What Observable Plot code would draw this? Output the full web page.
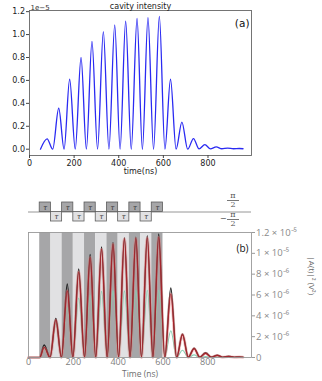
<!DOCTYPE html>
<html>
<head>
<meta charset="utf-8">
<script src="https://cdn.jsdelivr.net/npm/d3@7"></script>
<script src="https://cdn.jsdelivr.net/npm/@observablehq/plot@0.6"></script>
<style>
  html, body { margin: 0; padding: 0; background: #fff; }
  #root { position: relative; width: 322px; height: 381px; overflow: hidden; background: #fff; }
  #root > .panel { position: absolute; left: 0; }
  .frac { position: absolute; width: 12px; text-align: center; font-family: "DejaVu Serif", serif; font-size: 8px; line-height: 8.5px; color: #555; z-index: 5; }
  .frac .den { display: block; border-top: 0.8px solid #777; }
  .minus { position: absolute; font-family: "DejaVu Sans", sans-serif; font-size: 8px; line-height: 8px; color: #555; z-index: 5; }
</style>
</head>
<body>
<div id="root"></div>
<script>
// ---------- Panel (a): simulated cavity intensity (units of 1e-5) ----------
const aTime = [49, 79, 104, 131, 155, 180, 205, 231, 255, 280, 305, 331, 356, 382, 406, 431, 456, 482, 506, 531, 556, 582, 607, 632, 657, 683, 709, 735, 760, 786, 811, 837, 862, 888, 914, 940, 957];
const aValue = [0, 0.09, 0, 0.357, 0, 0.61, 0, 0.80, 0, 0.94, 0, 1.026, 0, 1.084, 0, 1.116, 0, 1.14, 0, 1.148, 0, 1.159, 0, 0.61, 0, 0.237, 0, 0.093, 0.003, 0.04, 0.003, 0.02, 0.004, 0.01, 0.004, 0.006, 0.004];
const aXTicks = [0, 200, 400, 600, 800];
const aYTicks = [0, 0.2, 0.4, 0.6, 0.8, 1.0, 1.2];
const aTitle = "cavity intensity";
const aXLabel = "time(ns)";
const aOffset = "1e\u22125";
const aTag = "(a)";

// ---------- Panel (b): measured |A(t)|^2 (units of 1e-6 V^2) ----------
const bTime = [0, 50, 70, 96, 122, 147, 173, 198, 224, 250, 275, 300, 326, 351, 377, 402, 428, 453, 479, 504, 530, 555, 581, 608, 635, 661, 687, 713, 739, 764, 790, 816, 842, 867, 893, 918, 940, 957];
const bData = [0, 0, 1.19, 0, 3.75, 0, 7.05, 0, 8.5, 0, 9.9, 0, 10.6, 0, 11.05, 0, 11.5, 0, 11.55, 0, 11.7, 0, 11.85, 0, 6.67, 0, 2.25, 0.03, 0.9, 0.04, 0.45, 0.04, 0.22, 0.03, 0.12, 0.03, 0.06, 0.03];
const bFit = [0, 0, 0.96, 0, 3.6, 0, 6.4, 0, 8.2, 0, 9.6, 0, 10.4, 0, 10.9, 0, 11.4, 0, 11.45, 0, 11.5, 0, 11.55, 0, 6.1, 0, 2.2, 0.02, 0.85, 0.02, 0.4, 0.02, 0.2, 0.02, 0.1, 0.02, 0.05, 0.03];
const bGreen = [0, 0, 0.85, 0, 3.25, 0, 4.8, 0, 5.7, 0, 6.0, 0, 6.35, 0, 6.4, 0, 6.4, 0, 6.45, 0, 6.45, 0, 6.45, 0, 2.57, 0, 0.7, 0, 0.25, 0, 0.1, 0, 0.04, 0, 0.02, 0, 0.01, 0];
const bUnit = 1e-6;
const bXTicks = [0, 200, 400, 600, 800];
const bYTicks = [0, 2e-6, 4e-6, 6e-6, 8e-6, 1e-5, 1.2e-5];
const bYTickLabels = ["0", "2 \u00d7 10\u207b\u2076", "4 \u00d7 10\u207b\u2076", "6 \u00d7 10\u207b\u2076", "8 \u00d7 10\u207b\u2076", "1 \u00d7 10\u207b\u2075", "1.2 \u00d7 10\u207b\u2075"];
const bXLabel = "Time (ns)";
const bYLabel = "|A(t)|\u00b2 (V\u00b2)";
const bTag = "(b)";

// ---------- Pulse sequence (phase +pi/2 / -pi/2, each tau = 50 ns) ----------
const pulseStart = [50, 100, 150, 200, 250, 300, 350, 400, 450, 500, 550];
const pulsePhase = [1, -1, 1, -1, 1, -1, 1, -1, 1, -1, 1];
const pulseTau = 50;
const pulseLabel = "\u03c4";

const xDomain = [0, 995];
const darkGray = "#a6a6a8";
const lightGray = "#e1e1e3";

const root = document.getElementById("root");
function place(el, top) { el.classList.add("panel"); el.style.top = top + "px"; root.appendChild(el); }

// ----- Panel (a) -----
const aRows = aTime.map((t, i) => ({t, v: aValue[i]}));
const plotA = Plot.plot({
  width: 322, height: 180,
  marginTop: 10, marginBottom: 25, marginLeft: 29, marginRight: 71,
  style: {fontFamily: "DejaVu Sans", fontSize: "8px", color: "#222", background: "transparent"},
  x: {domain: xDomain},
  y: {domain: [-0.055, 1.21]},
  marks: [
    Plot.line(aRows, {x: "t", y: "v", curve: "monotone-x", stroke: "#2a2af2", strokeWidth: 1.3}),
    Plot.frame({stroke: "#666", strokeWidth: 0.9}),
    Plot.axisX({ticks: aXTicks, tickSize: 3, tickPadding: 2, tickFormat: d3.format("d"), label: null, stroke: "#444"}),
    Plot.axisY({ticks: aYTicks, tickSize: 3, tickPadding: 1.5, tickFormat: d3.format(".1f"), label: null, stroke: "#444"}),
    Plot.text([aTitle], {text: d => d, frameAnchor: "top", dy: -7, fontSize: 8, fill: "#222"}),
    Plot.text([aOffset], {text: d => d, frameAnchor: "top-left", textAnchor: "start", dx: 1, dy: -5.5, fontSize: 7, fill: "#333"}),
    Plot.text([aTag], {text: d => d, frameAnchor: "top-right", textAnchor: "end", dx: -2, dy: 9.5, fontSize: 10.5, fill: "#111"}),
    Plot.text([aXLabel], {text: d => d, frameAnchor: "bottom", dy: 18, fontSize: 8, fill: "#222"})
  ]
});
place(plotA, 0);

// ----- Pulse sequence -----
const pulses = pulseStart.map((s, i) => ({x1: s, x2: s + pulseTau, phase: pulsePhase[i]}));
const plotP = Plot.plot({
  width: 322, height: 35,
  marginTop: 12, marginBottom: 4, marginLeft: 28, marginRight: 71,
  style: {background: "transparent"},
  x: {domain: xDomain, axis: null},
  y: {domain: [-1, 1], axis: null},
  marks: [
    Plot.ruleY([0], {stroke: "#8a8a8a", strokeWidth: 0.9}),
    Plot.rect(pulses, {x1: "x1", x2: "x2", y1: 0, y2: "phase", fill: d => d.phase > 0 ? darkGray : lightGray, stroke: "#5c5c5c", strokeWidth: 0.8}),
    Plot.text(pulses, {x: d => (d.x1 + d.x2) / 2, y: d => d.phase / 2, text: () => pulseLabel, fontSize: 7, fontStyle: "italic", fontFamily: "DejaVu Serif", fill: "#333"})
  ]
});
place(plotP, 190);

// ----- Panel (b) -----
const bRows = bTime.map((t, i) => ({t, data: bData[i] * bUnit, fit: bFit[i] * bUnit, green: bGreen[i] * bUnit}));
const plotB = Plot.plot({
  width: 322, height: 156,
  marginTop: 7, marginBottom: 24, marginLeft: 28, marginRight: 71,
  style: {fontFamily: "Open Sans", fontSize: "8.5px", color: "#888", background: "transparent"},
  x: {domain: xDomain},
  y: {domain: [0, 1.2e-5]},
  marks: [
    Plot.rect(pulses, {x1: "x1", x2: "x2", y1: 0, y2: 1.2e-5, fill: d => d.phase > 0 ? darkGray : lightGray}),
    Plot.line(bRows, {x: "t", y: "green", curve: "monotone-x", stroke: "#86d0b4", strokeWidth: 1.1}),
    Plot.line(bRows, {x: "t", y: "data", curve: "monotone-x", stroke: "#1e1e1e", strokeWidth: 1.5}),
    Plot.line(bRows, {x: "t", y: "fit", curve: "monotone-x", stroke: "#e07a7a", strokeOpacity: 0.45, strokeWidth: 3}),
    Plot.line(bRows, {x: "t", y: "fit", curve: "monotone-x", stroke: "#a8232b", strokeWidth: 1.1}),
    Plot.frame({stroke: "#9a9a9a", strokeWidth: 0.9}),
    Plot.axisX({ticks: bXTicks, tickSize: 0, tickPadding: 1.5, tickFormat: d3.format("d"), label: null, fontSize: 9, color: "#808080"}),
    Plot.axisY({anchor: "right", ticks: bYTicks, tickSize: 3, tickPadding: 1.5, tickFormat: (d, i) => bYTickLabels[i], label: null, fontSize: 9.5, color: "#8a8a8a", stroke: "#999"}),
    Plot.text([bTag], {text: d => d, frameAnchor: "top-right", textAnchor: "end", dx: -3, dy: 12, fontSize: 10, fill: "#111"}),
    Plot.text([bXLabel], {text: d => d, frameAnchor: "bottom", dy: 19, fontSize: 8.5, fill: "#6e6e6e"}),
    Plot.text([bYLabel], {text: d => d, frameAnchor: "right", dx: 60, rotate: 90, fontSize: 8, fill: "#666"})
  ]
});
place(plotB, 225);

// ----- phase labels (pi/2, -pi/2) -----
function frac(left, top) {
  const d = document.createElement("div");
  d.className = "frac";
  d.style.left = left + "px"; d.style.top = top + "px";
  d.innerHTML = "<span>\u03c0</span><span class=\"den\">2</span>";
  root.appendChild(d);
}
frac(227, 191.5);
frac(227, 210.5);
const m = document.createElement("div");
m.className = "minus"; m.textContent = "\u2212";
m.style.left = "220px"; m.style.top = "214.5px";
root.appendChild(m);
</script>
</body>
</html>
